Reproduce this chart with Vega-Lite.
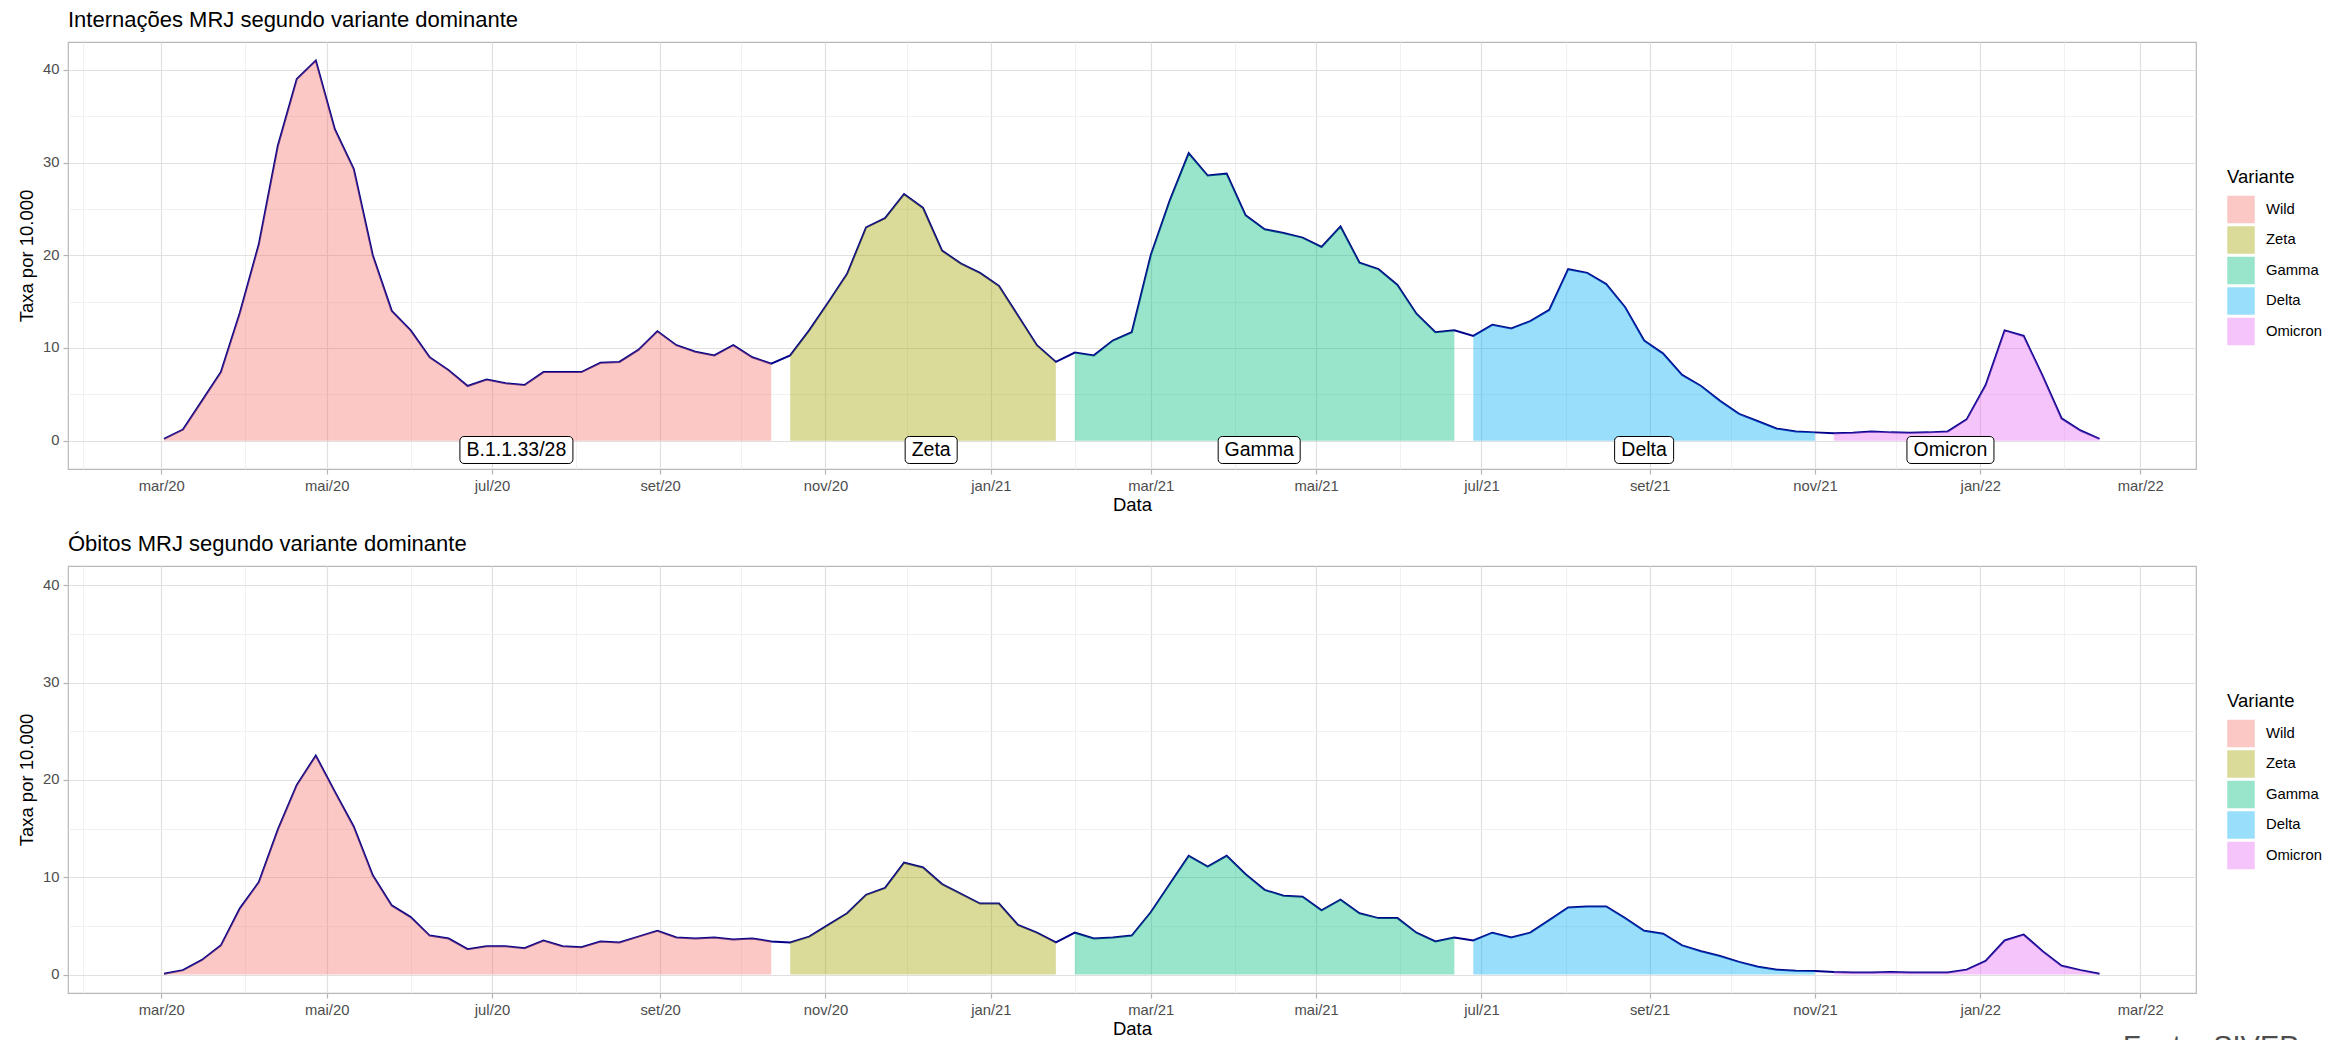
{
  "$schema": "https://vega.github.io/schema/vega-lite/v6.json",
  "background": "white",
  "padding": {"left": 16, "top": 8, "right": 0, "bottom": 0},
  "spacing": 17,
  "title": {"text": "Fonte: SIVEP", "orient": "bottom", "anchor": "end", "frame": "bounds", "fontSize": 29, "font": "Liberation Sans", "fontWeight": "normal", "color": "#4D4D4D", "offset": -6, "dx": -24},
  "config": {
    "font": "Liberation Sans",
    "view": {"stroke": "#B8B8B8", "strokeWidth": 1.2},
    "title": {"font": "Liberation Sans", "fontSize": 22, "fontWeight": "normal", "anchor": "start", "frame": "group", "color": "#000000", "offset": 10},
    "axis": {"labelFont": "Liberation Sans", "labelFontSize": 14.8, "labelColor": "#4D4D4D", "titleFont": "Liberation Sans", "titleFontSize": 18.5, "titleFontWeight": "normal", "titleColor": "#000000", "domain": false, "tickSize": 5, "tickWidth": 1.2},
    "legend": {"titleFont": "Liberation Sans", "titleFontSize": 18.5, "titleFontWeight": "normal", "titleColor": "#000000", "labelFont": "Liberation Sans", "labelFontSize": 14.8, "labelColor": "#000000", "symbolType": "square", "symbolSize": 756, "symbolOpacity": 0.4, "symbolStrokeWidth": 0, "rowPadding": 2.5, "titlePadding": 9, "labelOffset": 11}
  },
  "datasets": {
    "s": [
      {"d":"2020-03-02","v":"Wild","i":0.2,"o":0.07},
      {"d":"2020-03-09","v":"Wild","i":1.2,"o":0.45},
      {"d":"2020-03-16","v":"Wild","i":4.3,"o":1.5},
      {"d":"2020-03-23","v":"Wild","i":7.4,"o":3.0},
      {"d":"2020-03-30","v":"Wild","i":13.8,"o":6.8},
      {"d":"2020-04-06","v":"Wild","i":21.2,"o":9.5},
      {"d":"2020-04-13","v":"Wild","i":31.8,"o":14.9},
      {"d":"2020-04-20","v":"Wild","i":39.0,"o":19.5},
      {"d":"2020-04-27","v":"Wild","i":41.0,"o":22.5},
      {"d":"2020-05-04","v":"Wild","i":33.6,"o":18.8},
      {"d":"2020-05-11","v":"Wild","i":29.3,"o":15.2},
      {"d":"2020-05-18","v":"Wild","i":20.0,"o":10.2},
      {"d":"2020-05-25","v":"Wild","i":14.0,"o":7.1},
      {"d":"2020-06-01","v":"Wild","i":11.9,"o":5.9},
      {"d":"2020-06-08","v":"Wild","i":9.0,"o":4.0},
      {"d":"2020-06-15","v":"Wild","i":7.6,"o":3.7},
      {"d":"2020-06-22","v":"Wild","i":5.9,"o":2.6},
      {"d":"2020-06-29","v":"Wild","i":6.6,"o":2.9},
      {"d":"2020-07-06","v":"Wild","i":6.2,"o":2.9},
      {"d":"2020-07-13","v":"Wild","i":6.0,"o":2.7},
      {"d":"2020-07-20","v":"Wild","i":7.4,"o":3.5},
      {"d":"2020-07-27","v":"Wild","i":7.4,"o":2.9},
      {"d":"2020-08-03","v":"Wild","i":7.4,"o":2.8},
      {"d":"2020-08-10","v":"Wild","i":8.4,"o":3.4},
      {"d":"2020-08-17","v":"Wild","i":8.5,"o":3.3},
      {"d":"2020-08-24","v":"Wild","i":9.8,"o":3.9},
      {"d":"2020-08-31","v":"Wild","i":11.8,"o":4.5},
      {"d":"2020-09-07","v":"Wild","i":10.3,"o":3.8},
      {"d":"2020-09-14","v":"Wild","i":9.6,"o":3.7},
      {"d":"2020-09-21","v":"Wild","i":9.2,"o":3.8},
      {"d":"2020-09-28","v":"Wild","i":10.3,"o":3.6},
      {"d":"2020-10-05","v":"Wild","i":9.0,"o":3.7},
      {"d":"2020-10-12","v":"Wild","i":8.3,"o":3.4},
      {"d":"2020-10-19","v":"Zeta","i":9.2,"o":3.3},
      {"d":"2020-10-26","v":"Zeta","i":11.9,"o":3.9},
      {"d":"2020-11-02","v":"Zeta","i":14.9,"o":5.1},
      {"d":"2020-11-09","v":"Zeta","i":18.0,"o":6.3},
      {"d":"2020-11-16","v":"Zeta","i":23.0,"o":8.2},
      {"d":"2020-11-23","v":"Zeta","i":24.0,"o":8.9},
      {"d":"2020-11-30","v":"Zeta","i":26.6,"o":11.5},
      {"d":"2020-12-07","v":"Zeta","i":25.1,"o":11.0},
      {"d":"2020-12-14","v":"Zeta","i":20.5,"o":9.3},
      {"d":"2020-12-21","v":"Zeta","i":19.1,"o":8.3},
      {"d":"2020-12-28","v":"Zeta","i":18.1,"o":7.3},
      {"d":"2021-01-04","v":"Zeta","i":16.7,"o":7.3},
      {"d":"2021-01-11","v":"Zeta","i":13.5,"o":5.1},
      {"d":"2021-01-18","v":"Zeta","i":10.3,"o":4.3},
      {"d":"2021-01-25","v":"Zeta","i":8.5,"o":3.3},
      {"d":"2021-02-01","v":"Gamma","i":9.5,"o":4.3},
      {"d":"2021-02-08","v":"Gamma","i":9.2,"o":3.7},
      {"d":"2021-02-15","v":"Gamma","i":10.8,"o":3.8},
      {"d":"2021-02-22","v":"Gamma","i":11.7,"o":4.0},
      {"d":"2021-03-01","v":"Gamma","i":20.0,"o":6.4},
      {"d":"2021-03-08","v":"Gamma","i":25.9,"o":9.3},
      {"d":"2021-03-15","v":"Gamma","i":31.0,"o":12.2},
      {"d":"2021-03-22","v":"Gamma","i":28.6,"o":11.1},
      {"d":"2021-03-29","v":"Gamma","i":28.8,"o":12.2},
      {"d":"2021-04-05","v":"Gamma","i":24.3,"o":10.3},
      {"d":"2021-04-12","v":"Gamma","i":22.8,"o":8.7},
      {"d":"2021-04-19","v":"Gamma","i":22.4,"o":8.1},
      {"d":"2021-04-26","v":"Gamma","i":21.9,"o":8.0},
      {"d":"2021-05-03","v":"Gamma","i":20.9,"o":6.6},
      {"d":"2021-05-10","v":"Gamma","i":23.1,"o":7.7},
      {"d":"2021-05-17","v":"Gamma","i":19.2,"o":6.3},
      {"d":"2021-05-24","v":"Gamma","i":18.5,"o":5.8},
      {"d":"2021-05-31","v":"Gamma","i":16.8,"o":5.8},
      {"d":"2021-06-07","v":"Gamma","i":13.7,"o":4.3},
      {"d":"2021-06-14","v":"Gamma","i":11.7,"o":3.4},
      {"d":"2021-06-21","v":"Gamma","i":11.9,"o":3.8},
      {"d":"2021-06-28","v":"Delta","i":11.3,"o":3.5},
      {"d":"2021-07-05","v":"Delta","i":12.5,"o":4.3},
      {"d":"2021-07-12","v":"Delta","i":12.1,"o":3.8},
      {"d":"2021-07-19","v":"Delta","i":12.9,"o":4.3},
      {"d":"2021-07-26","v":"Delta","i":14.1,"o":5.6},
      {"d":"2021-08-02","v":"Delta","i":18.5,"o":6.9},
      {"d":"2021-08-09","v":"Delta","i":18.1,"o":7.0},
      {"d":"2021-08-16","v":"Delta","i":16.9,"o":7.0},
      {"d":"2021-08-23","v":"Delta","i":14.4,"o":5.8},
      {"d":"2021-08-30","v":"Delta","i":10.8,"o":4.5},
      {"d":"2021-09-06","v":"Delta","i":9.4,"o":4.2},
      {"d":"2021-09-13","v":"Delta","i":7.1,"o":3.0},
      {"d":"2021-09-20","v":"Delta","i":5.9,"o":2.4},
      {"d":"2021-09-27","v":"Delta","i":4.3,"o":1.9},
      {"d":"2021-10-04","v":"Delta","i":2.9,"o":1.3},
      {"d":"2021-10-11","v":"Delta","i":2.1,"o":0.8},
      {"d":"2021-10-18","v":"Delta","i":1.3,"o":0.5},
      {"d":"2021-10-25","v":"Delta","i":1.0,"o":0.4},
      {"d":"2021-11-01","v":"Delta","i":0.9,"o":0.35},
      {"d":"2021-11-08","v":"Omicron","i":0.8,"o":0.25},
      {"d":"2021-11-15","v":"Omicron","i":0.85,"o":0.2},
      {"d":"2021-11-22","v":"Omicron","i":1.0,"o":0.2},
      {"d":"2021-11-29","v":"Omicron","i":0.9,"o":0.25},
      {"d":"2021-12-06","v":"Omicron","i":0.85,"o":0.2},
      {"d":"2021-12-13","v":"Omicron","i":0.9,"o":0.2},
      {"d":"2021-12-20","v":"Omicron","i":1.0,"o":0.2},
      {"d":"2021-12-27","v":"Omicron","i":2.3,"o":0.5},
      {"d":"2022-01-03","v":"Omicron","i":6.0,"o":1.4},
      {"d":"2022-01-10","v":"Omicron","i":11.9,"o":3.5},
      {"d":"2022-01-17","v":"Omicron","i":11.3,"o":4.1},
      {"d":"2022-01-24","v":"Omicron","i":7.0,"o":2.4},
      {"d":"2022-01-31","v":"Omicron","i":2.4,"o":0.9},
      {"d":"2022-02-07","v":"Omicron","i":1.1,"o":0.45},
      {"d":"2022-02-14","v":"Omicron","i":0.2,"o":0.07}
    ],
    "lab": [
      {"d":"2020-07-10","t":"B.1.1.33/28"},
      {"d":"2020-12-10","t":"Zeta"},
      {"d":"2021-04-10","t":"Gamma"},
      {"d":"2021-08-30","t":"Delta"},
      {"d":"2021-12-21","t":"Omicron"}
    ]
  },
  "resolve": {"legend": {"color": "independent"}},
  "vconcat": [
    {
      "width": 2128,
      "height": 427,
      "title": {"text": "Internações MRJ segundo variante dominante"},
      "encoding": {
        "x": {"field": "d", "type": "temporal", "title": "Data",
          "scale": {"type": "utc", "domain": [{"year":2020,"month":1,"date":26,"hours":14,"utc":true},{"year":2022,"month":3,"date":21,"hours":14,"utc":true}], "nice": false},
          "axis": {
            "values": [{"year":2020,"month":2,"date":1,"utc":true},{"year":2020,"month":3,"date":1,"utc":true},{"year":2020,"month":4,"date":1,"utc":true},{"year":2020,"month":5,"date":1,"utc":true},{"year":2020,"month":6,"date":1,"utc":true},{"year":2020,"month":7,"date":1,"utc":true},{"year":2020,"month":8,"date":1,"utc":true},{"year":2020,"month":9,"date":1,"utc":true},{"year":2020,"month":10,"date":1,"utc":true},{"year":2020,"month":11,"date":1,"utc":true},{"year":2020,"month":12,"date":1,"utc":true},{"year":2021,"month":1,"date":1,"utc":true},{"year":2021,"month":2,"date":1,"utc":true},{"year":2021,"month":3,"date":1,"utc":true},{"year":2021,"month":4,"date":1,"utc":true},{"year":2021,"month":5,"date":1,"utc":true},{"year":2021,"month":6,"date":1,"utc":true},{"year":2021,"month":7,"date":1,"utc":true},{"year":2021,"month":8,"date":1,"utc":true},{"year":2021,"month":9,"date":1,"utc":true},{"year":2021,"month":10,"date":1,"utc":true},{"year":2021,"month":11,"date":1,"utc":true},{"year":2021,"month":12,"date":1,"utc":true},{"year":2022,"month":1,"date":1,"utc":true},{"year":2022,"month":2,"date":1,"utc":true},{"year":2022,"month":3,"date":1,"utc":true}],
            "labelExpr": "utcmonth(datum.value) % 2 == 0 ? ['jan','fev','mar','abr','mai','jun','jul','ago','set','out','nov','dez'][utcmonth(datum.value)] + '/' + utcFormat(datum.value, '%y') : ''",
            "gridColor": {"condition": {"test": "utcmonth(datum.value) % 2 == 0", "value": "#E0E0E0"}, "value": "#EEEEEE"},
            "gridWidth": {"condition": {"test": "utcmonth(datum.value) % 2 == 0", "value": 1.2}, "value": 0.8},
            "tickColor": {"condition": {"test": "utcmonth(datum.value) % 2 == 0", "value": "#B3B3B3"}, "value": "transparent"},
            "labelPadding": 4, "titlePadding": 3, "labelFlush": false, "labelOverlap": false
          }
        },
        "y": {"type": "quantitative"}
      },
      "layer": [
        {
          "data": {"name": "s"},
          "mark": {"type": "line", "color": "#00008B", "strokeWidth": 2},
          "encoding": {
            "y": {"field": "i", "type": "quantitative", "title": "Taxa por 10.000",
              "scale": {"domain": [-3.05, 43.0], "nice": false, "zero": false},
              "axis": {"values": [0,5,10,15,20,25,30,35,40], "labelExpr": "datum.value % 10 == 0 ? datum.label : ''",
                "gridColor": {"condition": {"test": "datum.value % 10 == 0", "value": "#E0E0E0"}, "value": "#EEEEEE"},
                "gridWidth": {"condition": {"test": "datum.value % 10 == 0", "value": 1.2}, "value": 0.8},
                "tickColor": {"condition": {"test": "datum.value % 10 == 0", "value": "#B3B3B3"}, "value": "transparent"},
                "labelPadding": 4, "titlePadding": 6}
            }
          }
        },
        {
          "data": {"name": "s"},
          "mark": {"type": "area", "opacity": 0.4},
          "encoding": {
            "y": {"field": "i", "type": "quantitative", "stack": null},
            "color": {"field": "v", "type": "nominal", "title": "Variante",
              "scale": {"domain": ["Wild","Zeta","Gamma","Delta","Omicron"], "range": ["#F8766D","#A3A500","#00BF7D","#00B0F6","#E76BF3"]},
              "legend": {"orient": "none", "legendX": 2159, "legendY": 126}
            }
          }
        },
        {
          "data": {"name": "lab"},
          "mark": {"type": "point", "filled": true, "fill": "white", "stroke": "#000000", "strokeWidth": 1, "opacity": 1, "fillOpacity": 1, "size": 729},
          "encoding": {
            "y": {"datum": -1},
            "shape": {"field": "t", "type": "nominal", "legend": null,
              "scale": {"domain": ["B.1.1.33/28","Zeta","Gamma","Delta","Omicron"],
                "range": [
                  "M-3.885,-1H3.885A0.3,0.3,0,0,1,4.185,-0.7V0.7A0.3,0.3,0,0,1,3.885,1H-3.885A0.3,0.3,0,0,1,-4.185,0.7V-0.7A0.3,0.3,0,0,1,-3.885,-1Z",
                  "M-1.626,-1H1.626A0.3,0.3,0,0,1,1.926,-0.7V0.7A0.3,0.3,0,0,1,1.626,1H-1.626A0.3,0.3,0,0,1,-1.926,0.7V-0.7A0.3,0.3,0,0,1,-1.626,-1Z",
                  "M-2.737,-1H2.737A0.3,0.3,0,0,1,3.037,-0.7V0.7A0.3,0.3,0,0,1,2.737,1H-2.737A0.3,0.3,0,0,1,-3.037,0.7V-0.7A0.3,0.3,0,0,1,-2.737,-1Z",
                  "M-1.885,-1H1.885A0.3,0.3,0,0,1,2.185,-0.7V0.7A0.3,0.3,0,0,1,1.885,1H-1.885A0.3,0.3,0,0,1,-2.185,0.7V-0.7A0.3,0.3,0,0,1,-1.885,-1Z",
                  "M-2.922,-1H2.922A0.3,0.3,0,0,1,3.222,-0.7V0.7A0.3,0.3,0,0,1,2.922,1H-2.922A0.3,0.3,0,0,1,-3.222,0.7V-0.7A0.3,0.3,0,0,1,-2.922,-1Z"
                ]}
            }
          }
        },
        {
          "data": {"name": "lab"},
          "mark": {"type": "text", "fontSize": 19.5, "font": "Liberation Sans", "color": "#000000", "baseline": "middle", "align": "center"},
          "encoding": {
            "y": {"datum": -1},
            "text": {"field": "t", "type": "nominal"}
          }
        }
      ]
    },
    {
      "width": 2128,
      "height": 427,
      "title": {"text": "Óbitos MRJ segundo variante dominante"},
      "encoding": {
        "x": {"field": "d", "type": "temporal", "title": "Data",
          "scale": {"type": "utc", "domain": [{"year":2020,"month":1,"date":26,"hours":14,"utc":true},{"year":2022,"month":3,"date":21,"hours":14,"utc":true}], "nice": false},
          "axis": {
            "values": [{"year":2020,"month":2,"date":1,"utc":true},{"year":2020,"month":3,"date":1,"utc":true},{"year":2020,"month":4,"date":1,"utc":true},{"year":2020,"month":5,"date":1,"utc":true},{"year":2020,"month":6,"date":1,"utc":true},{"year":2020,"month":7,"date":1,"utc":true},{"year":2020,"month":8,"date":1,"utc":true},{"year":2020,"month":9,"date":1,"utc":true},{"year":2020,"month":10,"date":1,"utc":true},{"year":2020,"month":11,"date":1,"utc":true},{"year":2020,"month":12,"date":1,"utc":true},{"year":2021,"month":1,"date":1,"utc":true},{"year":2021,"month":2,"date":1,"utc":true},{"year":2021,"month":3,"date":1,"utc":true},{"year":2021,"month":4,"date":1,"utc":true},{"year":2021,"month":5,"date":1,"utc":true},{"year":2021,"month":6,"date":1,"utc":true},{"year":2021,"month":7,"date":1,"utc":true},{"year":2021,"month":8,"date":1,"utc":true},{"year":2021,"month":9,"date":1,"utc":true},{"year":2021,"month":10,"date":1,"utc":true},{"year":2021,"month":11,"date":1,"utc":true},{"year":2021,"month":12,"date":1,"utc":true},{"year":2022,"month":1,"date":1,"utc":true},{"year":2022,"month":2,"date":1,"utc":true},{"year":2022,"month":3,"date":1,"utc":true}],
            "labelExpr": "utcmonth(datum.value) % 2 == 0 ? ['jan','fev','mar','abr','mai','jun','jul','ago','set','out','nov','dez'][utcmonth(datum.value)] + '/' + utcFormat(datum.value, '%y') : ''",
            "gridColor": {"condition": {"test": "utcmonth(datum.value) % 2 == 0", "value": "#E0E0E0"}, "value": "#EEEEEE"},
            "gridWidth": {"condition": {"test": "utcmonth(datum.value) % 2 == 0", "value": 1.2}, "value": 0.8},
            "tickColor": {"condition": {"test": "utcmonth(datum.value) % 2 == 0", "value": "#B3B3B3"}, "value": "transparent"},
            "labelPadding": 4, "titlePadding": 3, "labelFlush": false, "labelOverlap": false
          }
        }
      },
      "layer": [
        {
          "data": {"name": "s"},
          "mark": {"type": "line", "color": "#00008B", "strokeWidth": 2},
          "encoding": {
            "y": {"field": "o", "type": "quantitative", "title": "Taxa por 10.000",
              "scale": {"domain": [-1.9, 42.0], "nice": false, "zero": false},
              "axis": {"values": [0,5,10,15,20,25,30,35,40], "labelExpr": "datum.value % 10 == 0 ? datum.label : ''",
                "gridColor": {"condition": {"test": "datum.value % 10 == 0", "value": "#E0E0E0"}, "value": "#EEEEEE"},
                "gridWidth": {"condition": {"test": "datum.value % 10 == 0", "value": 1.2}, "value": 0.8},
                "tickColor": {"condition": {"test": "datum.value % 10 == 0", "value": "#B3B3B3"}, "value": "transparent"},
                "labelPadding": 4, "titlePadding": 6}
            }
          }
        },
        {
          "data": {"name": "s"},
          "mark": {"type": "area", "opacity": 0.4},
          "encoding": {
            "y": {"field": "o", "type": "quantitative", "stack": null},
            "color": {"field": "v", "type": "nominal", "title": "Variante",
              "scale": {"domain": ["Wild","Zeta","Gamma","Delta","Omicron"], "range": ["#F8766D","#A3A500","#00BF7D","#00B0F6","#E76BF3"]},
              "legend": {"orient": "none", "legendX": 2159, "legendY": 126}
            }
          }
        }
      ]
    }
  ]
}
